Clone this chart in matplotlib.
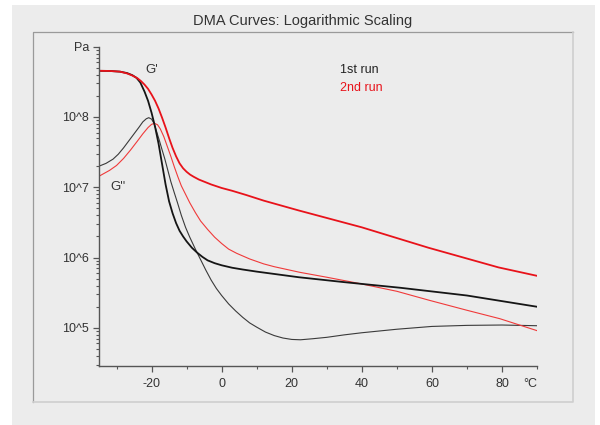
import numpy as np
import matplotlib
matplotlib.use('Agg')
import matplotlib.pyplot as plt
from matplotlib.lines import Line2D
from matplotlib.patches import Rectangle

plt.rcParams['font.family'] = ['Liberation Sans', 'DejaVu Sans']

# temperatures (degC) and log10(modulus in Pa)
# G' 1st run (thick black)
t_g1_run1 = [-35, -32, -29, -27, -25.5, -24.3, -23.2, -22, -21, -20, -19, -18, -17, -16, -15, -14,
             -13, -12, -11, -10, -8.5, -7, -5.5, -4, -2, 0, 3, 6, 10, 16, 22, 35, 51, 70, 90]
g1_run1 = [8.657, 8.655, 8.645, 8.625, 8.595, 8.557, 8.49, 8.36, 8.23, 8.06, 7.86, 7.62, 7.33, 7.04,
           6.80, 6.63, 6.49, 6.38, 6.30, 6.23, 6.14, 6.07, 6.01, 5.96, 5.92, 5.89, 5.855, 5.83, 5.80,
           5.76, 5.72, 5.65, 5.57, 5.46, 5.30]

# G' 2nd run (thick red)
t_g1_run2 = [-35, -32, -29, -27, -25.5, -24, -23, -22, -21, -20, -19, -18, -17, -16, -15, -14, -13,
             -12, -11, -10, -9, -8, -6.5, -5, -3, 0, 3, 7, 12, 22, 40, 59, 79, 90]
g1_run2 = [8.657, 8.655, 8.645, 8.62, 8.59, 8.55, 8.51, 8.46, 8.40, 8.32, 8.23, 8.12, 7.99, 7.85,
           7.70, 7.56, 7.44, 7.34, 7.27, 7.22, 7.18, 7.15, 7.11, 7.08, 7.04, 6.99, 6.95, 6.89, 6.81,
           6.67, 6.43, 6.14, 5.86, 5.74]

# G'' 1st run (thin black)
t_g2_run1 = [-35, -33, -31, -29.5, -28, -26.5, -25, -23.5, -22.5, -21.5, -20.8, -20, -19.3, -18.6,
             -17.8, -17.1, -16.2, -15.4, -14.5, -13.5, -12.6, -11.5, -10.3, -9.1, -7.5, -6, -4.5, -3,
             -1.5, 0, 2, 4, 6, 8, 10, 12.5, 15, 17.5, 20, 22.5, 26, 30, 35, 40, 50, 60, 70, 80, 90]
g2_run1 = [7.30, 7.34, 7.40, 7.47, 7.56, 7.66, 7.76, 7.86, 7.93, 7.975, 7.99, 7.97, 7.91, 7.80,
           7.67, 7.55, 7.40, 7.25, 7.08, 6.92, 6.78, 6.60, 6.43, 6.29, 6.12, 5.97, 5.82, 5.68,
           5.56, 5.46, 5.34, 5.24, 5.15, 5.07, 5.01, 4.94, 4.89, 4.855, 4.835, 4.83, 4.845, 4.865,
           4.90, 4.93, 4.98, 5.02, 5.035, 5.04, 5.03]

# G'' 2nd run (thin red)
t_g2_run2 = [-35, -32, -30, -28, -26, -24, -22.5, -21, -20, -19.2, -18.3, -17.5, -16.5, -15.5, -14.5,
             -13.5, -12.5, -11.5, -10.5, -9.1, -7.5, -6, -4, -2, 0, 2, 4.3, 8, 12, 15, 22.3, 30, 39.4,
             50, 59.4, 70, 79.4, 90]
g2_run2 = [7.157, 7.24, 7.31, 7.41, 7.53, 7.66, 7.76, 7.85, 7.895, 7.91, 7.89, 7.83, 7.72, 7.58, 7.44,
           7.29, 7.15, 7.02, 6.92, 6.78, 6.64, 6.52, 6.40, 6.29, 6.20, 6.12, 6.06, 5.98, 5.91, 5.87,
           5.79, 5.72, 5.63, 5.52, 5.39, 5.25, 5.13, 4.96]

x_major = [-20, 0, 20, 40, 60, 80]
x_minor = [-30, -10, 10, 30, 50, 70, 90]
y_major = [1e5, 1e6, 1e7, 1e8, 1e9]
y_labels = ['10^5', '10^6', '10^7', '10^8', 'Pa']

W, H = 600, 425
fig = plt.figure(figsize=(6, 4.25), dpi=100, facecolor='white')

def fx(px):
    return px / W

def fy(py):
    return 1 - py / H

# grey panel and inner frame
fig.patches.append(Rectangle((fx(12), 0), fx(595) - fx(12), fy(5), transform=fig.transFigure,
                             facecolor='#ececec', edgecolor='none', zorder=-5))
fig.lines.append(Line2D([fx(33), fx(33), fx(573)], [fy(402), fy(32), fy(32)], transform=fig.transFigure,
                        color='#9a9a9a', lw=0.9, zorder=-4))
fig.lines.append(Line2D([fx(33), fx(573), fx(573)], [fy(402), fy(402), fy(32)], transform=fig.transFigure,
                        color='#cfcfcf', lw=1.2, zorder=-4))

fig.text(fx(303), fy(21), 'DMA Curves: Logarithmic Scaling', ha='center', va='center',
         fontsize=10.5, color='#333333')

ax = fig.add_axes([fx(99), fy(366), fx(537) - fx(99), fy(46.7) - fy(366)])
ax.set_facecolor('none')
ax.set_yscale('log')
ax.set_xlim(-35, 90)
ax.set_ylim(10 ** 4.457, 1e9)

ax.plot(t_g2_run1, 10 ** np.array(g2_run1), color='#3a3a3a', lw=0.8)
ax.plot(t_g2_run2, 10 ** np.array(g2_run2), color='#f03a3a', lw=0.8)
ax.plot(t_g1_run1, 10 ** np.array(g1_run1), color='#151515', lw=1.3)
ax.plot(t_g1_run2, 10 ** np.array(g1_run2), color='#e8121a', lw=1.3)

for s in ['top', 'right']:
    ax.spines[s].set_visible(False)
for s in ['left', 'bottom']:
    ax.spines[s].set_color('#555555')
    ax.spines[s].set_linewidth(1.0)

ax.set_xticks(x_major)
ax.set_xticklabels([str(v) for v in x_major])
ax.set_xticks(x_minor, minor=True)
ax.set_xticklabels(['', '', '', '', '', '', '°C'], minor=True)
ax.get_xticklabels(minor=True)[-1].set_horizontalalignment('right')
ax.set_yticks(y_major)
ax.set_yticklabels(y_labels)
ax.yaxis.set_minor_locator(matplotlib.ticker.LogLocator(base=10, subs=np.arange(2, 10)))
ax.yaxis.set_minor_formatter(matplotlib.ticker.NullFormatter())

ax.tick_params(axis='both', which='major', direction='out', length=4.5, width=0.9,
               color='#555555', labelcolor='#333333', labelsize=9)
ax.tick_params(axis='both', which='minor', direction='out', length=2.5, width=0.8,
               color='#555555', labelcolor='#333333', labelsize=9)
ax.tick_params(axis='x', which='major', pad=4)
ax.tick_params(axis='x', which='minor', pad=6)
ax.tick_params(axis='y', which='major', pad=2.5)

# curve and run labels
ax.text(fx(152), fy(70), "G'", transform=fig.transFigure, ha='center', va='center',
        fontsize=9.5, color='#333333')
ax.text(fx(118), fy(187), "G''", transform=fig.transFigure, ha='center', va='center',
        fontsize=9.5, color='#333333')
ax.text(fx(340), fy(70), '1st run', transform=fig.transFigure, ha='left', va='center',
        fontsize=9, color='#222222')
ax.text(fx(340), fy(88), '2nd run', transform=fig.transFigure, ha='left', va='center',
        fontsize=9, color='#e8121a')

fig.savefig('out.png', dpi=100, facecolor='white')
